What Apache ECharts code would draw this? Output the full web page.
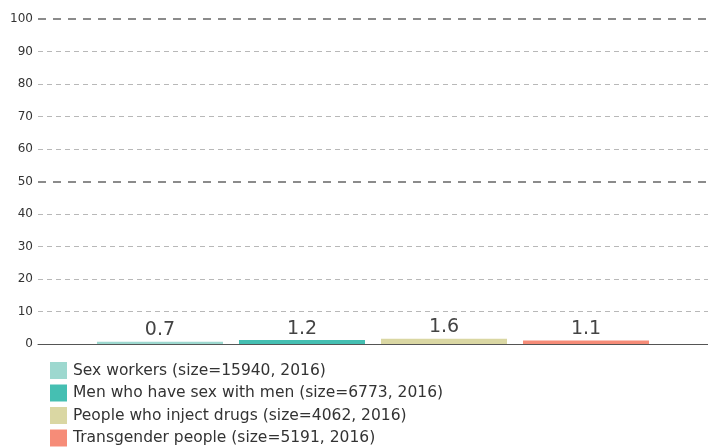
<!DOCTYPE html>
<html>
<head>
<meta charset="utf-8">
<script src="https://cdn.jsdelivr.net/npm/echarts@6/dist/echarts.min.js"></script>
<style>html,body{margin:0;padding:0;background:#fff}#c{width:708px;height:448px}</style>
</head>
<body>
<div id="c"></div>
<script>
const categories = ['2016'];
const seriesNames = [
  'Sex workers (size=15940, 2016)',
  'Men who have sex with men (size=6773, 2016)',
  'People who inject drugs (size=4062, 2016)',
  'Transgender people (size=5191, 2016)'
];
const seriesValues = [0.7, 1.2, 1.6, 1.1];
const yTicks = [0, 10, 20, 30, 40, 50, 60, 70, 80, 90, 100];
const refLines = [50, 100];
const colors = ['#9dd8cf', '#45bfb2', '#dad7a3', '#f68c78'];

const FONT = 'DejaVu Sans';
const chart = echarts.init(document.getElementById('c'), null, {renderer: 'canvas'});
const splitColors = yTicks.map(v => refLines.includes(v) || v === 0 ? 'transparent' : '#b8b8b8');

const series = seriesNames.map((name, i) => ({
  name: name,
  type: 'bar',
  data: [seriesValues[i]],
  itemStyle: {color: colors[i]},
  barGap: '12.7%',
  barCategoryGap: '17.6%',
  label: {
    show: true, position: 'top', distance: 2,
    fontFamily: FONT, fontSize: 19, color: '#444',
    formatter: p => p.value.toFixed(1)
  },
  markLine: i === 0 ? {
    silent: true, symbol: 'none', animation: false,
    label: {show: false},
    lineStyle: {color: '#666', width: 1.5, type: [8, 7]},
    data: refLines.map(v => ({yAxis: v}))
  } : undefined,
  animation: false
}));

chart.setOption({
  animation: false,
  textStyle: {fontFamily: FONT},
  grid: {left: 38, right: 0, top: 19, bottom: 104, containLabel: false},
  legend: {
    orient: 'vertical', left: 45, top: 357, height: 120,
    itemWidth: 17, itemHeight: 17, itemGap: 5.5,
    icon: 'rect',
    textStyle: {fontFamily: FONT, fontSize: 15.5, color: '#333', padding: [0, 0, 0, 1]},
    data: seriesNames
  },
  xAxis: {
    type: 'category', data: categories,
    axisLine: {lineStyle: {color: '#555', width: 1}},
    axisTick: {show: false},
    axisLabel: {show: false}
  },
  yAxis: {
    type: 'value', min: 0, max: 100, interval: 10,
    axisLine: {show: false}, axisTick: {show: false},
    axisLabel: {fontFamily: FONT, fontSize: 12, color: '#333', margin: 5},
    splitLine: {show: true, lineStyle: {color: splitColors, width: 1, type: [5, 4]}}
  },
  series: series
});
</script>
</body>
</html>
